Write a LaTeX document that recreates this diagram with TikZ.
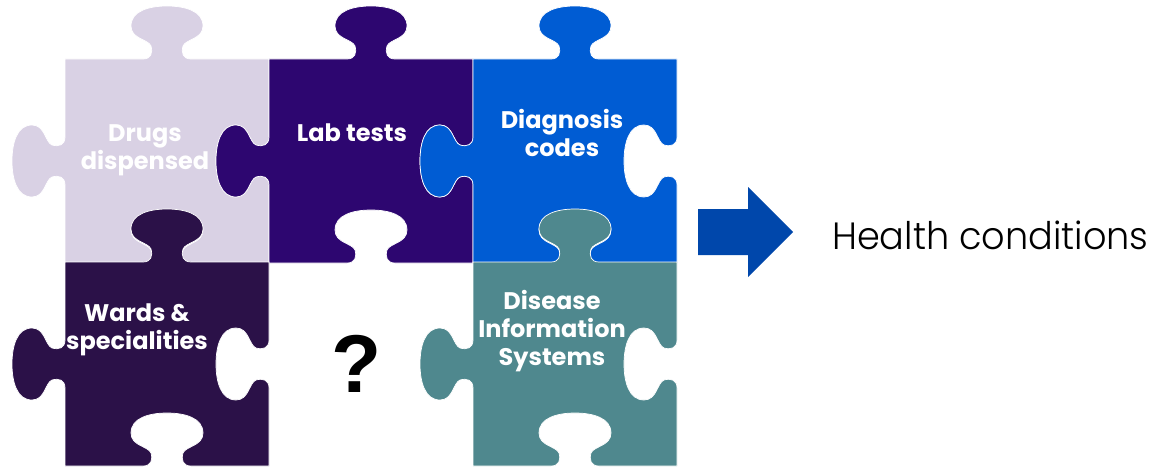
\documentclass[tikz,border=0pt]{standalone}
\usepackage{fontspec}
\setmainfont{Poppins}
\newfontfamily\qfont{Liberation Sans}
\newfontfamily\thinfont{Poppins}[UprightFont={* Light}]
\definecolor{drugscol}{HTML}{D9D1E4}
\definecolor{labcol}{HTML}{2D0670}
\definecolor{diagcol}{HTML}{005CD3}
\definecolor{wardcol}{HTML}{2B1148}
\definecolor{discol}{HTML}{4F888E}
\definecolor{arrowcol}{HTML}{0047AB}
\begin{document}
\begin{tikzpicture}[x=1pt, y=-1pt,
    piece/.pic={
      % one puzzle piece: knob on top and left, hole on right and bottom
      \path[pic actions] (0,0) -- (78,0)
        .. controls (86,0) and (88,-6) .. (86,-13)
        .. controls (83,-20) and (66,-20) .. (66,-33)
        .. controls (66,-48) and (84,-53) .. (102,-53)
        .. controls (120,-53) and (138,-48) .. (138,-33)
        .. controls (138,-20) and (121,-20) .. (118,-13)
        .. controls (116,-6) and (118,0) .. (126,0) -- (204,0)
        -- (204,78)
        .. controls (204,86) and (198,88) .. (191,86)
        .. controls (184,83) and (184,66) .. (171,66)
        .. controls (156,66) and (151,84) .. (151,102)
        .. controls (151,120) and (156,138) .. (171,138)
        .. controls (184,138) and (184,121) .. (191,118)
        .. controls (198,116) and (204,118) .. (204,126) -- (204,204)
        -- (126,204)
        .. controls (118,204) and (116,198) .. (118,191)
        .. controls (121,184) and (138,184) .. (138,171)
        .. controls (138,156) and (120,151) .. (102,151)
        .. controls (84,151) and (66,156) .. (66,171)
        .. controls (66,184) and (83,184) .. (86,191)
        .. controls (88,198) and (86,204) .. (78,204) -- (0,204)
        -- (0,126)
        .. controls (0,118) and (-6,116) .. (-13,118)
        .. controls (-20,121) and (-20,138) .. (-33,138)
        .. controls (-48,138) and (-53,120) .. (-53,102)
        .. controls (-53,84) and (-48,66) .. (-33,66)
        .. controls (-20,66) and (-20,83) .. (-13,86)
        .. controls (-6,88) and (0,86) .. (0,78) -- cycle;
    },
    edge/.style={draw=white, line width=0.7pt},
    tag/.style={text=white, font=\bfseries\fontsize{24}{28}\selectfont, align=center, inner sep=0pt}]

  \useasboundingbox (0,0) rectangle (1155,468);

  \pic[edge, fill=drugscol] at (65,59)  {piece};
  \pic[edge, fill=labcol]   at (269,59) {piece};
  \pic[edge, fill=diagcol]  at (473,59) {piece};
  \pic[edge, fill=wardcol]  at (65,262) {piece};
  \pic[edge, fill=discol]   at (473,262) {piece};

  \node[tag] (drugs)   at (145,150) {Drugs\\dispensed};
  \node[tag] (lab)     at (352,133) {Lab tests};
  \node[tag] (diag)    at (562,133) {Diagnosis\\codes};
  \node[tag] (wards)   at (137,330) {Wards \&\\specialities};
  \node[tag] (disease) at (552,331) {Disease\\Information\\Systems};

  \node[font=\qfont\bfseries\fontsize{82}{82}\selectfont, inner sep=0pt] (unknown) at (357,364) {?};

  \fill[arrowcol] (698,209) -- (748,209) -- (748,187) -- (793,232)
      -- (748,277) -- (748,255) -- (698,255) -- cycle;
  \node[anchor=base west, inner sep=0pt, font=\thinfont\fontsize{38}{38}\selectfont] (health) at (832,249) {\scalebox{0.965}[1]{Health conditions}};
\end{tikzpicture}
\end{document}
